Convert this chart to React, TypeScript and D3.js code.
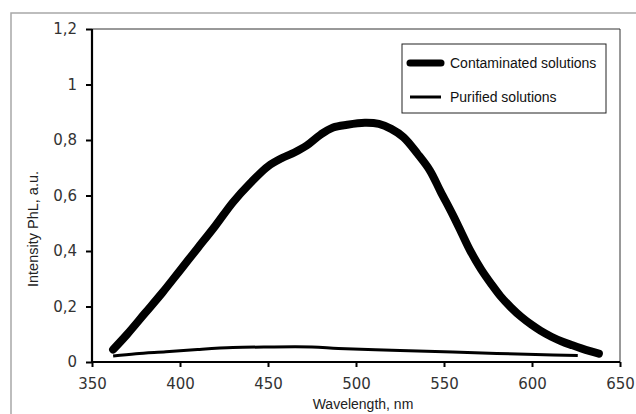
import React, { useRef, useEffect } from "react";
import * as d3 from "d3";

// wavelength (nm) vs intensity (a.u.)
const contaminatedWl = [362, 370, 380, 390, 400, 410, 420, 430, 440, 450, 458, 465, 472, 480, 487, 495, 505, 513, 520, 527, 535, 542, 548, 555, 560, 565, 571, 577, 582, 588, 594, 600, 605, 611, 617, 623, 628, 633, 638];
const contaminatedVal = [0.045, 0.1, 0.175, 0.25, 0.33, 0.41, 0.49, 0.575, 0.645, 0.705, 0.735, 0.755, 0.78, 0.82, 0.845, 0.855, 0.862, 0.858, 0.84, 0.81, 0.75, 0.69, 0.615, 0.53, 0.465, 0.4, 0.335, 0.28, 0.238, 0.197, 0.162, 0.133, 0.112, 0.091, 0.074, 0.06, 0.049, 0.039, 0.03];

const purifiedWl = [362, 375, 392, 410, 430, 450, 475, 490, 525, 555, 580, 602, 626];
const purifiedVal = [0.022, 0.03, 0.037, 0.045, 0.052, 0.054, 0.054, 0.049, 0.041, 0.036, 0.031, 0.027, 0.023];

const xTicks = [350, 400, 450, 500, 550, 600, 650];
const yTicks = [0, 0.2, 0.4, 0.6, 0.8, 1, 1.2];
const seriesNames = ["Contaminated solutions", "Purified solutions"];

const W = 636;
const H = 414;
const margin = { top: 29, right: 16, bottom: 52, left: 92 };

const App = () => {
  const ref = useRef<SVGSVGElement>(null);

  useEffect(() => {
    const svg = d3.select(ref.current);
    svg.selectAll("*").remove();

    const x = d3.scaleLinear().domain([350, 650]).range([margin.left, W - margin.right]);
    const y = d3.scaleLinear().domain([0, 1.2]).range([H - margin.bottom, margin.top]);
    const fmt = (d: any) => String(d).replace(".", ",");

    svg.append("rect").attr("width", W).attr("height", H).attr("fill", "#fff");

    // outer chart frame (only top/left visible)
    svg.append("path")
      .attr("d", `M11,${H + 5}V13H${W + 5}`)
      .attr("fill", "none")
      .attr("stroke", "#a8a8a8")
      .attr("stroke-width", 1.5);

    // plot frame top / right
    svg.append("path")
      .attr("d", `M${x(350)},${y(1.2)}H${x(650)}V${y(0)}`)
      .attr("fill", "none")
      .attr("stroke", "#333")
      .attr("stroke-width", 1);

    // axes
    const xAxis = svg.append("g")
      .attr("transform", `translate(0,${y(0)})`)
      .call(d3.axisBottom(x).tickValues(xTicks).tickSize(5).tickPadding(11).tickFormat(fmt));
    const yAxis = svg.append("g")
      .attr("transform", `translate(${x(350)},0)`)
      .call(d3.axisLeft(y).tickValues(yTicks).tickSize(6).tickPadding(9).tickFormat(fmt));

    [xAxis, yAxis].forEach((g) => {
      g.select(".domain").attr("stroke", "#000").attr("stroke-width", 2.2);
      g.selectAll(".tick line").attr("stroke", "#000").attr("stroke-width", 2);
      g.selectAll(".tick text")
        .attr("fill", "#333")
        .style("font-family", "'DejaVu Sans', Verdana, sans-serif")
        .style("font-size", "15px");
    });
    xAxis.select(".domain").attr("d", `M${x(350)},0H${x(650)}`);
    yAxis.select(".domain").attr("d", `M0,${y(0)}V${y(1.2)}`);

    // axis titles
    svg.append("text")
      .attr("x", 363)
      .attr("y", 409)
      .attr("text-anchor", "middle")
      .style("font-family", "'Liberation Sans', Arial, sans-serif")
      .style("font-size", "14px")
      .attr("fill", "#222")
      .text("Wavelength, nm");
    svg.append("text")
      .attr("transform", "translate(38,229) rotate(-90)")
      .attr("text-anchor", "middle")
      .style("font-family", "'Liberation Sans', Arial, sans-serif")
      .style("font-size", "14.5px")
      .attr("fill", "#222")
      .text("Intensity PhL, a.u.");

    const line = d3.line<[number, number]>()
      .x((d) => x(d[0]))
      .y((d) => y(d[1]))
      .curve(d3.curveCatmullRom.alpha(0.5));

    svg.append("path")
      .datum(purifiedWl.map((w, i) => [w, purifiedVal[i]] as [number, number]))
      .attr("d", line)
      .attr("fill", "none")
      .attr("stroke", "#000")
      .attr("stroke-width", 3);

    svg.append("path")
      .datum(contaminatedWl.map((w, i) => [w, contaminatedVal[i]] as [number, number]))
      .attr("d", line)
      .attr("fill", "none")
      .attr("stroke", "#000")
      .attr("stroke-width", 8)
      .attr("stroke-linecap", "round")
      .attr("stroke-linejoin", "round");

    // legend
    const lg = svg.append("g").attr("transform", "translate(402,44)");
    lg.append("rect")
      .attr("width", 204).attr("height", 69)
      .attr("fill", "#fff").attr("stroke", "#222").attr("stroke-width", 1);
    const widths = [7, 3];
    seriesNames.forEach((name, i) => {
      const cy = 19 + i * 34;
      lg.append("line")
        .attr("x1", 8).attr("x2", 39).attr("y1", cy).attr("y2", cy)
        .attr("stroke", "#000").attr("stroke-width", widths[i])
        .attr("stroke-linecap", i === 0 ? "round" : "butt");
      lg.append("text")
        .attr("x", 48).attr("y", cy + 5)
        .style("font-family", "'Liberation Sans', Arial, sans-serif")
        .style("font-size", "14px")
        .attr("fill", "#111")
        .text(name);
    });
  }, []);

  return (
    <svg ref={ref} width={W} height={H} style={{ position: "absolute", left: 0, top: 0 }} />
  );
};

export default App;
